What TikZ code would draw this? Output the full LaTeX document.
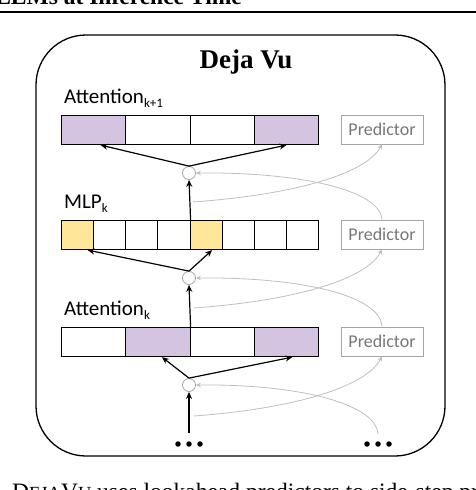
\documentclass[tikz,border=0pt]{standalone}
\usepackage{fontspec}
\setmainfont{Liberation Serif}
\newfontfamily\calib{Carlito}
\usetikzlibrary{arrows.meta,calc}
\definecolor{purp}{RGB}{213,195,226}
\definecolor{yel}{RGB}{255,230,153}
\definecolor{pgray}{RGB}{166,166,166}
\definecolor{ptext}{RGB}{118,118,118}
\definecolor{cgray}{RGB}{190,190,190}
\newcommand{\lsub}[1]{\raisebox{-4.5pt}{\fontsize{13}{13}\selectfont #1}}
\begin{document}
\begin{tikzpicture}[x=1pt,y=-1pt,
  cell/.style={draw=black, line width=1.1pt, minimum height=29pt, inner sep=0pt, anchor=north west},
  pred/.style={draw=pgray, line width=0.9pt, text=ptext, font=\calib\fontsize{18}{18}\selectfont, minimum width=82pt, minimum height=29pt, inner sep=0pt},
  junc/.style={circle, draw=pgray, line width=0.8pt, minimum size=13pt, inner sep=0pt, fill=white},
  lab/.style={anchor=base west, inner sep=0pt, font=\calib\fontsize{21}{21}\selectfont},
  blk/.style={line width=1.2pt, -{Stealth[length=7pt,width=6pt]}},
  gry/.style={draw=cgray, line width=0.8pt, -{Stealth[length=5pt,width=4.5pt]}},
  bdot/.style={circle, fill=black, minimum size=5.5pt, inner sep=0pt}
]
\useasboundingbox (0,0) rectangle (476,490);
\clip (0,0) rectangle (476,490);
% header and caption fragments
\node[anchor=base east, inner sep=0pt, font=\bfseries\fontsize{23.5}{24}\selectfont] (hdr) at (242,4) {LLMs at Inference Time};
\draw[line width=2pt] (0,12) -- (476,12);
\node[anchor=base west, inner sep=0pt, font=\fontsize{23.5}{24}\selectfont] (cap) at (12,499) {D{\fontsize{18.5}{18}\selectfont EJA}V{\fontsize{18.5}{18}\selectfont U} uses lookahead predictors to side-step prediction costs};
% frame
\node[draw, line width=1.3pt, rounded corners=50pt, minimum width=409pt, minimum height=421pt, inner sep=0pt] (frame) at (240.5,245.5) {};
\node[anchor=base, inner sep=0pt, font=\bfseries\fontsize{27}{27}\selectfont] (title) at (246,68) {Deja Vu};
% labels
\node[lab] (l1) at (64,103) {Attention\lsub{k+1}};
\node[lab] (l2) at (64,208) {MLP\lsub{k}};
\node[lab] (l3) at (64,315) {Attention\lsub{k}};
% bars
\foreach \i/\f in {1/purp,2/white,3/white,4/purp}
  \node[cell, minimum width=64.25pt, fill=\f] (u\i) at ({61+(\i-1)*64.25},115) {};
\foreach \i/\f in {1/yel,2/white,3/white,4/white,5/yel,6/white,7/white,8/white}
  \node[cell, minimum width=32.125pt, fill=\f] (m\i) at ({61+(\i-1)*32.125},220) {};
\foreach \i/\f in {1/white,2/purp,3/white,4/purp}
  \node[cell, minimum width=64.25pt, fill=\f] (w\i) at ({61+(\i-1)*64.25},327) {};
% predictors
\node[pred] (p1) at (382,129.5) {Predictor};
\node[pred] (p2) at (382,234.5) {Predictor};
\node[pred] (p3) at (382,341.5) {Predictor};
% dots
\node[bdot] (dl1) at (178,444) {};
\node[bdot] (dl2) at (189,444) {};
\node[bdot] (dl3) at (200,444) {};
\node[bdot] (dr1) at (367,444) {};
\node[bdot] (dr2) at (378,444) {};
\node[bdot] (dr3) at (389,444) {};
% gray curves (drawn first so junctions sit on top)
\coordinate (g1) at (193,202);
\coordinate (g2) at (194,308);
\coordinate (g3) at (194,416);
\draw[gry] (g1) .. controls (290,195) and (365,175) .. (p1.south);
\draw[gry] (g2) .. controls (290,301) and (365,281) .. (p2.south);
\draw[gry] (g3) .. controls (290,409) and (365,388) .. (p3.south);
% junctions
\node[junc] (c1) at (189,173) {};
\node[junc] (c2) at (189,278) {};
\node[junc] (c3) at (189,385) {};
\draw[gry] (p2.north) .. controls (380,190) and (300,172) .. (c1.east);
\draw[gry] (p3.north) .. controls (380,295) and (300,277) .. (c2.east);
\draw[gry] ([yshift=7pt]dr2.north) .. controls (376,404) and (300,384) .. (c3.east);
% black arrows
\draw[blk] (c1.north) -- ([xshift=7pt]u1.south);
\draw[blk] (c1.north) -- (u4.south);
\draw[blk] (m4.north east) -- (c1.south);
\draw[blk] (c2.north) -- ([xshift=10pt]m1.south);
\draw[blk] (c2.north) -- ([xshift=6pt]m5.south);
\draw[blk] (w2.north east) -- (c2.south);
\draw[blk] (c3.north) -- ([xshift=4pt]w2.south);
\draw[blk] (c3.north) -- ([xshift=6pt]w4.south);
\draw[blk] ([yshift=8pt]dl2.north) -- (c3.south);
\end{tikzpicture}
\end{document}
